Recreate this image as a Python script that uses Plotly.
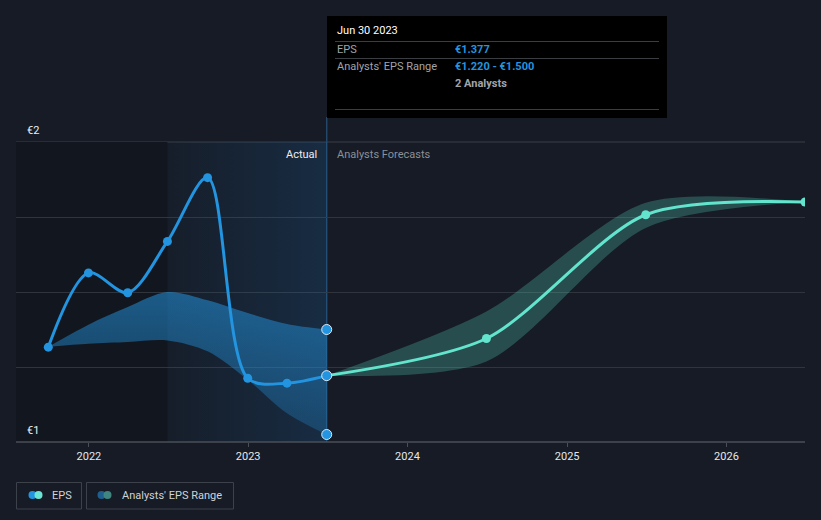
import plotly.graph_objects as go

# ---------------- data ----------------
eps_dates = ['2021-09-30', '2021-12-31', '2022-03-31', '2022-06-30',
             '2022-09-30', '2022-12-31', '2023-03-31', '2023-06-30']
eps_vals  = [1.453, 1.651, 1.598, 1.735, 1.905, 1.370, 1.357, 1.377]

past_range_upper = [1.454, 1.513, 1.560, 1.600, 1.578, 1.544, 1.515, 1.500]
past_range_lower = [1.454, 1.462, 1.467, 1.471, 1.442, 1.366, 1.277, 1.220]

fc_dates = ['2023-06-30', '2024-06-30', '2025-06-30', '2026-06-30']
fc_vals  = [1.377, 1.476, 1.806, 1.840]
fc_upper = [1.377, 1.548, 1.838, 1.840]
fc_lower = [1.377, 1.415, 1.771, 1.840]

year_ticks  = ['2022-01-01', '2023-01-01', '2024-01-01', '2025-01-01', '2026-01-01']
year_labels = ['2022', '2023', '2024', '2025', '2026']

x_range = ['2021-07-18', '2026-06-30']
y_range = [1.2, 2.0]
past_start = '2022-06-30'
now_date = '2023-06-30'

# ---------------- colours ----------------
bg       = '#161b25'
blue     = '#2394df'
cyan     = '#62e4cd'
grid     = '#30353d'
txt      = '#d8dadd'
grey_txt = '#8b9097'

# plot area in pixels -> paper coords helpers
L, R, T, B = 16, 805, 142, 442
def px(x):
    return (x - L) / (R - L)
def py(y):
    return (B - y) / (B - T)

fig = go.Figure()

# highlighted "last year" area with horizontal gradient
fig.add_trace(go.Scatter(
    x=[past_start, now_date, now_date, past_start, past_start],
    y=[y_range[0], y_range[0], y_range[1], y_range[1], y_range[0]],
    mode='none', fill='toself',
    fillgradient=dict(type='horizontal',
                      colorscale=[[0, 'rgba(30,120,200,0.03)'], [1, 'rgba(30,120,200,0.18)']]),
    hoverinfo='skip', showlegend=False))

# past analysts range (blue band)
fig.add_trace(go.Scatter(x=eps_dates, y=past_range_lower, mode='lines',
                         line=dict(width=0, shape='spline', smoothing=0.9),
                         hoverinfo='skip', showlegend=False))
fig.add_trace(go.Scatter(x=eps_dates, y=past_range_upper, mode='lines',
                         line=dict(width=0, shape='spline', smoothing=0.9),
                         fill='tonexty',
                         fillgradient=dict(type='vertical',
                                           colorscale=[[0, 'rgba(35,148,223,0.25)'], [1, 'rgba(35,148,223,0.55)']]),
                         hoverinfo='skip', showlegend=False))

# forecast range (teal band)
fig.add_trace(go.Scatter(x=fc_dates, y=fc_lower, mode='lines',
                         line=dict(width=0, shape='spline', smoothing=0.8),
                         hoverinfo='skip', showlegend=False))
fig.add_trace(go.Scatter(x=fc_dates, y=fc_upper, mode='lines',
                         line=dict(width=0, shape='spline', smoothing=0.8),
                         fill='tonexty', fillcolor='rgba(95,227,204,0.25)',
                         hoverinfo='skip', showlegend=False))

# forecast line
fig.add_trace(go.Scatter(x=fc_dates, y=fc_vals, mode='lines+markers',
                         line=dict(color=cyan, width=3, shape='spline', smoothing=0.8),
                         marker=dict(color=cyan, size=9),
                         hoverinfo='skip', showlegend=False))

# EPS line
fig.add_trace(go.Scatter(x=eps_dates, y=eps_vals, mode='lines+markers',
                         line=dict(color=blue, width=3, shape='spline', smoothing=0.9),
                         marker=dict(color=blue, size=9),
                         hoverinfo='skip', showlegend=False))

# hovered points at Jun 30 2023
fig.add_trace(go.Scatter(x=[now_date] * 3,
                         y=[eps_vals[-1], past_range_upper[-1], past_range_lower[-1]],
                         mode='markers',
                         marker=dict(color=blue, size=10, line=dict(color='#dfe8f2', width=1)),
                         cliponaxis=False, hoverinfo='skip', showlegend=False))

shapes = [
    # darker area before the highlighted year
    dict(type='rect', xref='x', yref='y', x0=x_range[0], x1=past_start,
         y0=y_range[0], y1=y_range[1], fillcolor='#12161e', line_width=0, layer='below'),
    # top gridline
    dict(type='line', xref='paper', yref='paper', x0=0, x1=1, y0=1, y1=1,
         line=dict(color='#3a3f47', width=1), layer='below'),
    # hover line
    dict(type='line', xref='x', yref='paper', x0=now_date, x1=now_date,
         y0=0, y1=py(117), line=dict(color='#24486a', width=1.5), layer='below'),
    # bottom axis line
    dict(type='line', xref='paper', yref='paper', x0=0, x1=1, y0=0, y1=0,
         line=dict(color='#4a4f57', width=1.5)),
    # tooltip box
    dict(type='rect', xref='paper', yref='paper', x0=px(327), x1=px(667),
         y0=py(118), y1=py(16), fillcolor='#000000', line_width=0),
    dict(type='line', xref='paper', yref='paper', x0=px(335), x1=px(659),
         y0=py(41.5), y1=py(41.5), line=dict(color='#3a3d42', width=1)),
    dict(type='line', xref='paper', yref='paper', x0=px(335), x1=px(659),
         y0=py(58.5), y1=py(58.5), line=dict(color='#3a3d42', width=1)),
    dict(type='line', xref='paper', yref='paper', x0=px(335), x1=px(659),
         y0=py(109.5), y1=py(109.5), line=dict(color='#3a3d42', width=1)),
    # legend boxes
    dict(type='rect', xref='paper', yref='paper', x0=px(16.5), x1=px(81.5),
         y0=py(509), y1=py(482.5), line=dict(color='#3c414a', width=1)),
    dict(type='rect', xref='paper', yref='paper', x0=px(86.5), x1=px(233.5),
         y0=py(509), y1=py(482.5), line=dict(color='#3c414a', width=1)),
]

# legend icons (pairs of dots)
for cx, col in [(32.5, blue), (38.5, '#6ce5d4'), (101.5, '#1f5f8e'), (107.5, '#3f8580')]:
    shapes.append(dict(type='circle', xref='paper', yref='paper',
                       x0=px(cx - 4), x1=px(cx + 4), y0=py(499), y1=py(491),
                       fillcolor=col, line_width=0))

font = 'Roboto, Arial, sans-serif'
def note(x, y, text, color=txt, size=11, anchor='left'):
    return dict(xref='paper', yref='paper', x=px(x), y=py(y), text=text,
                showarrow=False, xanchor=anchor, yanchor='middle',
                font=dict(family=font, size=size, color=color))

annotations = [
    note(25, 130, '€2', color='#eceef0'),
    note(25, 430, '€1', color='#eceef0'),
    note(319, 154, 'Actual', color='#eceef0', anchor='right'),
    note(335, 154, 'Analysts Forecasts', color=grey_txt),
    note(335, 31, 'Jun 30 2023', color='#ffffff'),
    note(335, 49.5, 'EPS', color='#a0a4aa'),
    note(453, 49.5, '<b>€1.377</b>', color=blue),
    note(335, 66.5, "Analysts' EPS Range", color='#a0a4aa'),
    note(453, 66.5, '<b>€1.220 - €1.500</b>', color=blue),
    note(453, 83.5, '<b>2 Analysts</b>', color='#a0a4aa'),
    note(50, 495.5, 'EPS', color='#d0d3d7'),
    note(120, 495.5, "Analysts' EPS Range", color='#d0d3d7'),
]

fig.update_layout(
    width=821, height=520,
    margin=dict(l=L, r=821 - R, t=T, b=520 - B),
    paper_bgcolor=bg, plot_bgcolor=bg,
    showlegend=False,
    hovermode=False,
    shapes=shapes,
    annotations=annotations,
    font=dict(family=font, color=txt, size=11),
    xaxis=dict(type='date', range=x_range, tickvals=year_ticks, ticktext=year_labels,
               showgrid=False, zeroline=False, showline=False,
               ticks='outside', ticklen=4, tickcolor='#4a4f57',
               tickfont=dict(family=font, size=11, color='#e6e8ea')),
    yaxis=dict(range=y_range, tickvals=[1.2, 1.4, 1.6, 1.8, 2.0],
               showticklabels=False, gridcolor=grid, gridwidth=1,
               zeroline=False, showline=False),
)

# page body has a default 8px margin; drop it so the chart fills the window
fig.write_html("out.html", config={'displayModeBar': False},
               post_script="document.body.style.margin='0';")
